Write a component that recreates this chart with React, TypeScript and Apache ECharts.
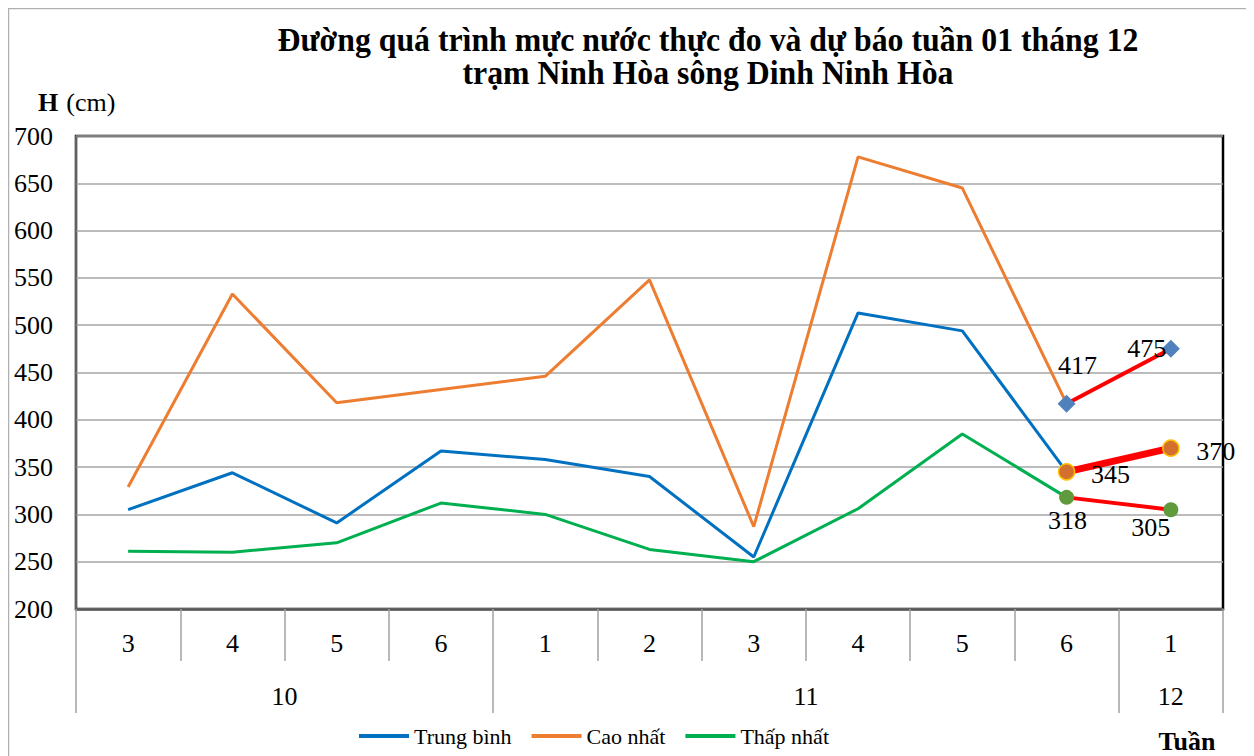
import React, { useEffect, useRef } from "react";
import * as echarts from "echarts";

const weeks = ["3", "4", "5", "6", "1", "2", "3", "4", "5", "6", "1"];
const months = ["10", "11", "12"];
const monthSpans = [4, 6, 1];
const trungBinh = [305, 344, 291, 367, 358, 340, 255, 513, 494, 345, null];
const caoNhat = [329, 533, 418, 432, 446, 548, 287, 678, 645, 417, null];
const thapNhat = [261, 260, 270, 312, 300, 263, 250, 306, 385, 318, null];
const duBaoCao = [null, null, null, null, null, null, null, null, null, 417, 475];
const duBaoTB = [null, null, null, null, null, null, null, null, null, 345, 370];
const duBaoThap = [null, null, null, null, null, null, null, null, null, 318, 305];
const yTicks = { min: 200, max: 700, interval: 50 };

const FONT = "Liberation Serif";

export default function App() {
  const ref = useRef<HTMLDivElement>(null);
  useEffect(() => {
    if (!ref.current) return;
    const chart = echarts.init(ref.current, null, { renderer: "svg" });

    const bounds: number[] = [0];
    const centers: number[] = [];
    let acc = 0;
    monthSpans.forEach((s) => {
      centers.push(acc + s / 2);
      acc += s;
      bounds.push(acc);
    });

    const mkLabels = (vals: (number | null)[], offsets: Record<number, number[]>) =>
      vals.map((v, i) =>
        v == null
          ? null
          : offsets[i]
          ? { value: v, label: { show: true, position: "inside", offset: offsets[i] } }
          : v
      );

    const labelStyle = {
      show: false,
      fontSize: 26,
      fontFamily: FONT,
      color: "#000",
      formatter: "{c}",
    };

    chart.setOption({
      animation: false,
      backgroundColor: "#fff",
      textStyle: { fontFamily: FONT },
      grid: { left: 68, top: 128, width: 1147, height: 473, show: true, borderColor: "#000", borderWidth: 2.5, containLabel: false },
      legend: {
        data: [
          { name: "Trung bình", icon: "rect" },
          { name: "Cao nhất", icon: "rect" },
          { name: "Thấp nhất", icon: "rect" },
        ],
        left: 346,
        top: 712,
        itemWidth: 50,
        itemHeight: 4,
        itemGap: 20,
        textStyle: { fontSize: 22, fontFamily: FONT, color: "#000" },
      },
      xAxis: [
        {
          type: "category",
          data: weeks,
          boundaryGap: true,
          axisLine: { lineStyle: { color: "#595959", width: 2.5 } },
          axisTick: { show: true, interval: 0, length: 52, lineStyle: { color: "#a0a0a0", width: 1.5 } },
          axisLabel: { interval: 0, fontSize: 26, fontFamily: FONT, color: "#000", margin: 21 },
          splitLine: { show: false },
          z: 5,
        },
        {
          type: "value",
          min: 0,
          max: weeks.length,
          position: "bottom",
          offset: 52,
          axisLine: { show: false },
          axisTick: { show: true, customValues: bounds, length: 52, lineStyle: { color: "#a0a0a0", width: 1.5 } },
          axisLabel: {
            show: true,
            customValues: centers,
            fontSize: 26,
            fontFamily: FONT,
            color: "#000",
            margin: 22,
            formatter: (v: number) => {
              const i = centers.findIndex((c) => Math.abs(c - v) < 1e-6);
              return i >= 0 ? months[i] : "";
            },
          },
          splitLine: { show: false },
        },
      ],
      yAxis: {
        type: "value",
        min: yTicks.min,
        max: yTicks.max,
        interval: yTicks.interval,
        axisLine: { show: true, lineStyle: { color: "#808080", width: 1.5 } },
        axisTick: { show: false },
        axisLabel: { fontSize: 26, fontFamily: FONT, color: "#000", margin: 23 },
        splitLine: { show: true, lineStyle: { color: "#a6a6a6", width: 1.5 } },
      },
      graphic: [
        { type: "rect", shape: { x: 0.5, y: 0.5, width: 1300, height: 800 }, style: { fill: "none", stroke: "#b0b0b0", lineWidth: 1.5 }, silent: true },
        {
          type: "text",
          x: 700,
          y: 32,
          scaleX: 0.935,
          style: { text: "Đường quá trình mực nước thực đo và dự báo tuần 01 tháng 12", font: `bold 34px ${FONT}`, fill: "#000", align: "center", verticalAlign: "middle" },
        },
        {
          type: "text",
          x: 700,
          y: 65,
          scaleX: 0.935,
          style: { text: "trạm Ninh Hòa sông Dinh Ninh Hòa", font: `bold 34px ${FONT}`, fill: "#000", align: "center", verticalAlign: "middle" },
        },
        {
          type: "text",
          x: 30,
          y: 94,
          style: {
            text: "{b|H}{n|(cm)}",
            rich: { b: { font: `bold 26px ${FONT}`, fill: "#000", padding: [0, 8, 0, 0] }, n: { font: `26px ${FONT}`, fill: "#000" } },
            verticalAlign: "middle",
          },
        },
        {
          type: "text",
          x: 1179,
          y: 733,
          style: { text: "Tuần", font: `bold 26px ${FONT}`, fill: "#000", align: "center", verticalAlign: "middle" },
        },
      ],
      series: [
        { name: "Trung bình", type: "line", data: trungBinh, symbol: "none", lineStyle: { color: "#0070c0", width: 3 }, itemStyle: { color: "#0070c0" }, z: 2 },
        { name: "Cao nhất", type: "line", data: caoNhat, symbol: "none", lineStyle: { color: "#ed7d31", width: 3 }, itemStyle: { color: "#ed7d31" }, z: 2 },
        { name: "Thấp nhất", type: "line", data: thapNhat, symbol: "none", lineStyle: { color: "#00b050", width: 3 }, itemStyle: { color: "#00b050" }, z: 2 },
        {
          name: "Dự báo cao",
          type: "line",
          data: mkLabels(duBaoCao, { 9: [11, -38], 10: [-24, 0] }),
          symbol: "diamond",
          symbolSize: 18,
          itemStyle: { color: "#4f81bd" },
          lineStyle: { color: "#ff0000", width: 4 },
          label: labelStyle,
          z: 4,
        },
        {
          name: "Dự báo TB",
          type: "line",
          data: mkLabels(duBaoTB, { 9: [44, 3], 10: [45, 3] }),
          symbol: "circle",
          symbolSize: 16,
          itemStyle: { color: "#d2702e", borderColor: "#ffc000", borderWidth: 1.5 },
          lineStyle: { color: "#ff0000", width: 7 },
          label: labelStyle,
          z: 4,
        },
        {
          name: "Dự báo thấp",
          type: "line",
          data: mkLabels(duBaoThap, { 9: [1, 23], 10: [-20, 18] }),
          symbol: "circle",
          symbolSize: 15,
          itemStyle: { color: "#5f9a3c" },
          lineStyle: { color: "#ff0000", width: 4 },
          label: labelStyle,
          z: 4,
        },
      ],
    });
    return () => chart.dispose();
  }, []);
  return <div ref={ref} style={{ width: 1246, height: 748 }} />;
}
